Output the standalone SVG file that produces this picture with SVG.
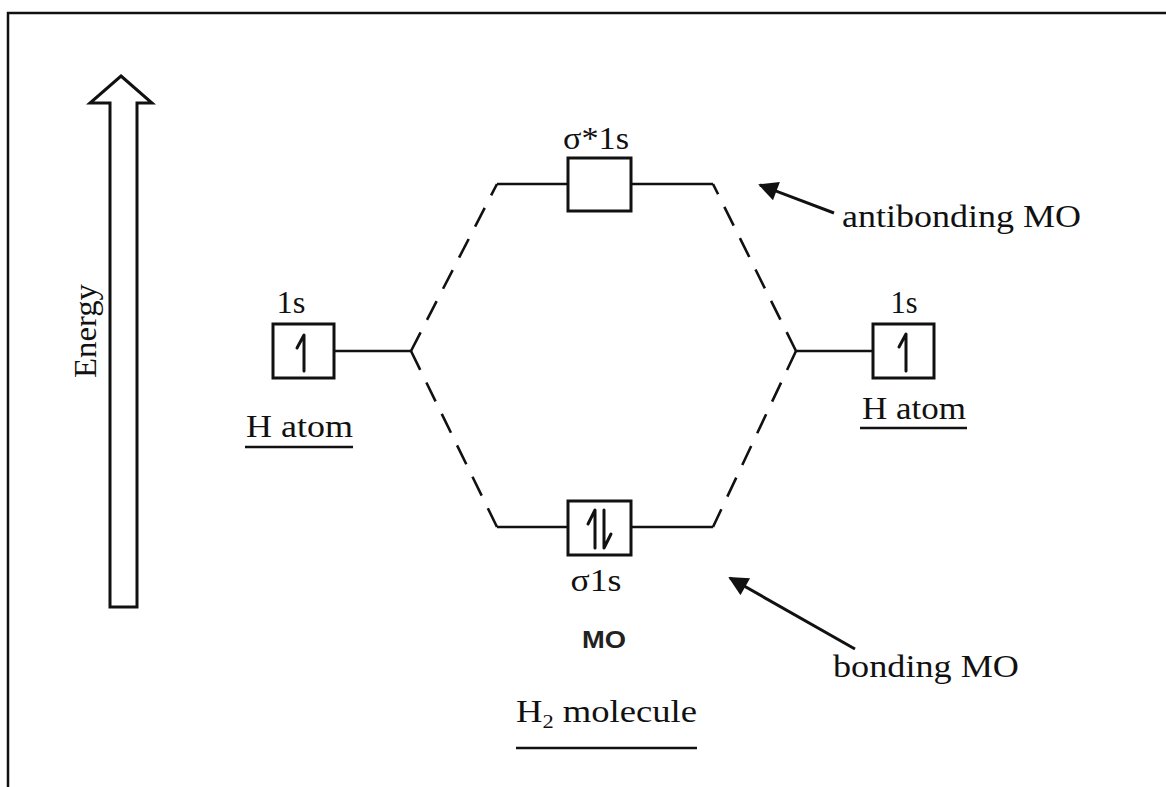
<svg xmlns="http://www.w3.org/2000/svg" width="1166" height="787" viewBox="0 0 1166 787">
  <style>
    .t { font-family: "Liberation Serif", "Times New Roman", serif; font-size: 31px; fill: #111; }
    .mo { font-family: "Liberation Sans", Arial, sans-serif; font-size: 24px; font-weight: bold; fill: #222; }
    .box { fill: #fff; stroke: #111; stroke-width: 3; }
    .lvl { fill: none; stroke: #111; stroke-width: 2.6; }
    .dash { fill: none; stroke: #111; stroke-width: 2.6; stroke-dasharray: 21 14; }
    .e { fill: none; stroke: #111; stroke-width: 3; stroke-linecap: round; stroke-linejoin: round; }
    .ul { stroke: #111; stroke-width: 2.4; }
    .ptr { stroke: #111; stroke-width: 3; fill: none; }
  </style>
  <defs>
    <marker id="head" viewBox="0 0 10 10" refX="9" refY="5" markerWidth="7" markerHeight="6.5" orient="auto" markerUnits="strokeWidth">
      <path d="M0,0 L10,5 L0,10 z" fill="#111"/>
    </marker>
  </defs>

  <rect width="1166" height="787" fill="#fff"/>
  <!-- frame -->
  <path d="M8,787 V13 H1166" fill="none" stroke="#111" stroke-width="2.5"/>

  <!-- energy axis -->
  <g id="energy-axis">
    <path d="M121,76 L152,103 L137,103 L137,607 L110,607 L110,103 L90,103 Z" fill="#fff" stroke="#111" stroke-width="3" stroke-linejoin="miter"/>
    <text class="t" font-size="33" transform="translate(96,331) rotate(-90)" text-anchor="middle" textLength="94" lengthAdjust="spacingAndGlyphs">Energy</text>
  </g>

  <!-- connectors: level lines and correlation dashes -->
  <g id="connectors">
    <line class="lvl" x1="334" y1="351" x2="411" y2="351"/>
    <line class="lvl" x1="796" y1="351" x2="873" y2="351"/>
    <line class="lvl" x1="497" y1="184" x2="568" y2="184"/>
    <line class="lvl" x1="631" y1="184" x2="713" y2="184"/>
    <line class="lvl" x1="497" y1="527" x2="568" y2="527"/>
    <line class="lvl" x1="631" y1="527" x2="713" y2="527"/>
    <line class="dash" x1="411" y1="351" x2="497" y2="184"/>
    <line class="dash" x1="411" y1="351" x2="497" y2="527"/>
    <line class="dash" x1="796" y1="351" x2="713" y2="184"/>
    <line class="dash" x1="796" y1="351" x2="713" y2="527"/>
    <line class="ptr" x1="834" y1="213" x2="760" y2="185" marker-end="url(#head)"/>
    <line class="ptr" x1="855" y1="649" x2="730" y2="578" marker-end="url(#head)"/>
  </g>

  <!-- left hydrogen atom -->
  <g id="h-left">
    <text class="t" x="291" y="313" text-anchor="middle" textLength="29" lengthAdjust="spacingAndGlyphs">1s</text>
    <rect class="box" x="273" y="324" width="61" height="54"/>
    <path class="e" d="M304,371 V335 L297,348"/>
    <text class="t" x="246" y="437" textLength="107" lengthAdjust="spacingAndGlyphs">H atom</text>
    <line class="ul" x1="245" y1="447" x2="353" y2="447"/>
  </g>

  <!-- right hydrogen atom -->
  <g id="h-right">
    <text class="t" x="904" y="313" text-anchor="middle" textLength="27" lengthAdjust="spacingAndGlyphs">1s</text>
    <rect class="box" x="873" y="324" width="61" height="54"/>
    <path class="e" d="M906,371 V334 L899,347"/>
    <text class="t" x="862" y="419" textLength="104" lengthAdjust="spacingAndGlyphs">H atom</text>
    <line class="ul" x1="860" y1="428" x2="967" y2="428"/>
  </g>

  <!-- antibonding orbital -->
  <g id="sigma-star">
    <text class="t" x="596" y="149" text-anchor="middle" textLength="66" lengthAdjust="spacingAndGlyphs">σ*1s</text>
    <rect class="box" x="568" y="158" width="63" height="53"/>
  </g>

  <!-- bonding orbital -->
  <g id="sigma">
    <rect class="box" x="568" y="501" width="63" height="54"/>
    <path class="e" d="M595,548 V510 L588,524"/>
    <path class="e" d="M604,510 V548 L611,534"/>
    <text class="t" x="596" y="591" text-anchor="middle" textLength="51" lengthAdjust="spacingAndGlyphs">σ1s</text>
    <text class="mo" x="604" y="648" text-anchor="middle" textLength="44" lengthAdjust="spacingAndGlyphs">MO</text>
  </g>

  <!-- annotations -->
  <g id="label-antibonding">
    <text class="t" x="842" y="227" textLength="239" lengthAdjust="spacingAndGlyphs">antibonding MO</text>
  </g>
  <g id="label-bonding">
    <text class="t" x="833" y="677" textLength="186" lengthAdjust="spacingAndGlyphs">bonding MO</text>
  </g>
  <g id="label-molecule">
    <text class="t" x="516" y="722" textLength="181" lengthAdjust="spacingAndGlyphs">H<tspan font-size="19" dy="6">2</tspan><tspan dy="-6"> molecule</tspan></text>
    <line class="ul" x1="516" y1="748" x2="697" y2="748"/>
  </g>
</svg>
